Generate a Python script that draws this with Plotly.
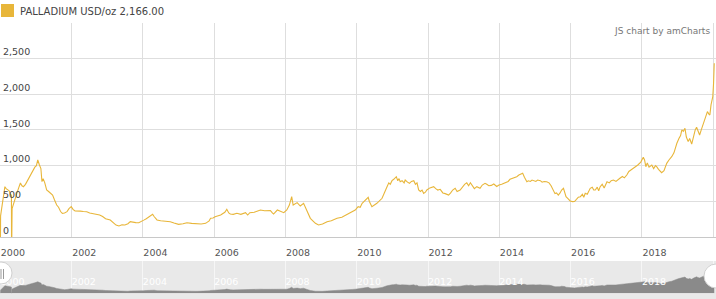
import plotly.graph_objects as go

# ---- data ----
dates = [
    "2000-01-03", "2000-01-04", "2000-01-20", "2000-02-05", "2000-02-17", "2000-03-01", "2000-03-15",
    "2000-04-01", "2000-04-15", "2000-04-24", "2000-04-25", "2000-04-28", "2000-05-01", "2000-05-15",
    "2000-06-01", "2000-06-20", "2000-07-10", "2000-07-25", "2000-08-10", "2000-08-25", "2000-09-15",
    "2000-10-01", "2000-10-20", "2000-11-10", "2000-12-01", "2000-12-20",
    "2001-01-05", "2001-01-19", "2001-02-05", "2001-02-20", "2001-03-03", "2001-03-15", "2001-04-01",
    "2001-04-20", "2001-05-10", "2001-06-01", "2001-06-20", "2001-07-10", "2001-08-01", "2001-08-20",
    "2001-09-10", "2001-09-28", "2001-10-20", "2001-11-15", "2001-12-05", "2001-12-28",
    "2002-01-15", "2002-02-05", "2002-03-01", "2002-04-01", "2002-05-01", "2002-06-05", "2002-07-05",
    "2002-08-05", "2002-09-01", "2002-10-15", "2002-11-15", "2002-12-15",
    "2003-02-01", "2003-03-01", "2003-04-01", "2003-05-01", "2003-06-01", "2003-07-01", "2003-08-01",
    "2003-08-25", "2003-09-20", "2003-10-20", "2003-11-20", "2003-12-10",
    "2004-01-10", "2004-02-05", "2004-03-01", "2004-04-10", "2004-04-25", "2004-05-25", "2004-07-01",
    "2004-08-15", "2004-10-08", "2004-11-15",
    "2005-01-01", "2005-02-15", "2005-03-28", "2005-05-15", "2005-07-10", "2005-08-20", "2005-10-05",
    "2005-11-10", "2005-11-25", "2005-12-20",
    "2006-01-10", "2006-02-10", "2006-03-08", "2006-04-20", "2006-05-10", "2006-05-30", "2006-06-15",
    "2006-07-15", "2006-08-22", "2006-10-01", "2006-11-18", "2006-12-10",
    "2007-01-01", "2007-02-15", "2007-04-20", "2007-06-01", "2007-07-31", "2007-08-20", "2007-09-01",
    "2007-10-10", "2007-12-15",
    "2008-01-15", "2008-02-10", "2008-03-05", "2008-03-20", "2008-04-30", "2008-06-01", "2008-07-05",
    "2008-08-10", "2008-09-12", "2008-11-03", "2008-12-05",
    "2009-01-15", "2009-03-03", "2009-04-15", "2009-06-13", "2009-08-01", "2009-09-24", "2009-11-15",
    "2009-12-16",
    "2010-01-15", "2010-02-05", "2010-02-25", "2010-04-28", "2010-05-10", "2010-06-05", "2010-07-26",
    "2010-09-17", "2010-11-07", "2010-11-25", "2010-12-10", "2010-12-28",
    "2011-01-15", "2011-02-10", "2011-02-25", "2011-03-10", "2011-03-22", "2011-04-10", "2011-05-01",
    "2011-05-12", "2011-06-05", "2011-06-25", "2011-07-15", "2011-08-08", "2011-08-25", "2011-09-10",
    "2011-09-27", "2011-10-15", "2011-11-01", "2011-11-17", "2011-12-05", "2011-12-20",
    "2012-01-20", "2012-02-10", "2012-02-28", "2012-03-20", "2012-04-10", "2012-05-05", "2012-06-01",
    "2012-06-25", "2012-07-15", "2012-07-30", "2012-08-20", "2012-09-10", "2012-10-05", "2012-10-25",
    "2012-11-25", "2012-12-15",
    "2013-01-10", "2013-02-01", "2013-02-20", "2013-03-10", "2013-04-05", "2013-04-20", "2013-05-15",
    "2013-06-17", "2013-07-10", "2013-08-07", "2013-08-25", "2013-09-15", "2013-10-10", "2013-11-05",
    "2013-12-05", "2013-12-28",
    "2014-01-25", "2014-02-13", "2014-03-10", "2014-04-01", "2014-04-20", "2014-05-15", "2014-06-05",
    "2014-06-28", "2014-07-20", "2014-08-05", "2014-08-28", "2014-09-15", "2014-10-10", "2014-10-25",
    "2014-11-15", "2014-12-02", "2014-12-17",
    "2015-01-10", "2015-01-28", "2015-02-25", "2015-03-15", "2015-04-05", "2015-05-01", "2015-05-25",
    "2015-06-15", "2015-07-10", "2015-07-25", "2015-08-10", "2015-08-28", "2015-09-15", "2015-10-01",
    "2015-10-20", "2015-11-01", "2015-11-15", "2015-12-05", "2015-12-28",
    "2016-01-20", "2016-02-10", "2016-03-01", "2016-03-20", "2016-04-10", "2016-05-01", "2016-05-15",
    "2016-05-30", "2016-06-20", "2016-07-20", "2016-08-10", "2016-08-25", "2016-09-10", "2016-09-30",
    "2016-10-15", "2016-10-30", "2016-11-20", "2016-12-10",
    "2017-01-08", "2017-02-01", "2017-02-20", "2017-03-15", "2017-04-10", "2017-05-01", "2017-05-20",
    "2017-06-15", "2017-07-05", "2017-07-30", "2017-08-20", "2017-09-10", "2017-10-05", "2017-10-25",
    "2017-11-20", "2017-12-20",
    "2018-01-15", "2018-01-28", "2018-02-10", "2018-02-25", "2018-03-15", "2018-04-12", "2018-05-01",
    "2018-05-20", "2018-06-01", "2018-06-20", "2018-07-10", "2018-07-22", "2018-08-15", "2018-09-12",
    "2018-10-05", "2018-11-02", "2018-11-25", "2018-12-10", "2018-12-25",
    "2019-01-15", "2019-02-01", "2019-02-14", "2019-03-01", "2019-03-18", "2019-04-01", "2019-04-20",
    "2019-05-05", "2019-05-26", "2019-06-15", "2019-07-01", "2019-07-15", "2019-07-28", "2019-08-15",
    "2019-09-01", "2019-09-25", "2019-10-10", "2019-10-25", "2019-11-03", "2019-11-18", "2019-11-28",
    "2019-12-10", "2019-12-28", "2020-01-05", "2020-01-12",
]
prices = [
    0, 300, 450, 650, 707, 680, 661,
    650, 590, 590, 0, 0, 400, 470,
    549, 620, 700, 758, 720, 707, 740,
    780, 847, 900, 940, 980,
    1000, 1080, 1010, 960, 777, 820, 760,
    661, 640, 610, 590, 520, 451, 420,
    360, 335, 340, 358, 400, 428,
    390, 367, 370, 365, 360, 358, 340,
    330, 320, 311, 290, 260,
    242, 210, 170, 158, 175, 172, 190,
    218, 210, 205, 204, 215,
    240, 260, 288, 321, 290, 242, 230,
    225, 218, 200,
    181, 190, 204, 195, 186, 185, 195,
    230, 265, 270,
    288, 300, 311, 350, 391, 340, 325,
    320, 335, 320, 344, 311,
    344, 350, 381, 370, 372, 340, 325,
    381, 344,
    381, 450, 567, 451, 484, 437, 475,
    358, 265, 195, 172,
    185, 218, 230, 265, 280, 321, 360,
    381,
    428, 420, 475, 559, 500, 428, 475,
    545, 707, 760, 740, 791,
    810, 847, 790, 820, 777, 790, 760,
    800, 770, 754, 780, 791, 740, 760,
    661, 640, 660, 614, 630, 661,
    690, 700, 707, 680, 660, 670, 620,
    610, 600, 590, 620, 660, 684, 640,
    661, 700,
    740, 760, 720, 763, 720, 680, 707,
    684, 730, 754, 740, 720, 725, 745,
    710, 730,
    740, 754, 770, 780, 810, 820, 830,
    847, 870, 880, 894, 840, 777, 790,
    780, 800, 791,
    780, 800, 791, 770, 780, 777, 760,
    720, 637, 610, 620, 590, 620, 660,
    684, 630, 567, 540, 507,
    498, 500, 530, 560, 567, 600, 560,
    614, 600, 684, 700, 660, 661, 700,
    650, 707, 740, 690,
    777, 760, 790, 800, 780, 810, 824,
    850, 830, 870, 920, 940, 964, 980,
    1010, 1050,
    1117, 1080, 986, 1040, 980, 1010, 960,
    1000, 986, 950, 920, 903, 930, 1033,
    1080, 1126, 1180, 1250, 1313,
    1380, 1420, 1499, 1480, 1522, 1400, 1336,
    1380, 1303, 1420, 1500, 1536, 1480, 1429,
    1500, 1592, 1680, 1720, 1755, 1720, 1708,
    1850, 1964, 2150, 2430,
]

series_name = "PALLADIUM USD/oz 2,166.00"
y_tickvals = [0, 500, 1000, 1500, 2000, 2500, 3000]
y_ticktext = ["0", "500", "1,000", "1,500", "2,000", "2,500", ""]
x_tickvals = ["2000-01-01", "2002-01-01", "2004-01-01", "2006-01-01", "2008-01-01", "2010-01-01",
              "2012-01-01", "2014-01-01", "2016-01-01", "2018-01-01", "2020-01-01"]
x_ticktext = ["2000", "2002", "2004", "2006", "2008", "2010", "2012", "2014", "2016", "2018", ""]
x_range = ["1999-12-29", "2020-01-30"]

W, H = 716, 299
GOLD = "#e8b63a"
FONT = "DejaVu Sans"


def px_x(p):
    return p / W


def px_y(p):
    return (H - p) / H


MAIN_DOMAIN = [px_y(237.3), px_y(22.5)]

fig = go.Figure()
fig.add_trace(go.Scatter(x=dates, y=prices, mode="lines", line=dict(color=GOLD, width=1.1),
                         xaxis="x", yaxis="y", showlegend=False, hoverinfo="skip"))
fig.add_trace(go.Scatter(x=dates, y=prices, mode="lines", line=dict(color="#8a8a8a", width=0.5),
                         fill="tozeroy", fillcolor="#8a8a8a",
                         xaxis="x2", yaxis="y2", showlegend=False, hoverinfo="skip"))
# carrier trace for the value-axis labels (drawn on an overlaying axis pair)
fig.add_trace(go.Scatter(x=dates, y=prices, mode="lines", line=dict(width=0), opacity=0,
                         xaxis="x3", yaxis="y3", showlegend=False, hoverinfo="skip"))

shapes = [
    # scrollbar background
    dict(type="rect", xref="paper", yref="paper", x0=0, x1=1, y0=0, y1=px_y(261),
         fillcolor="#e9e9e9", line=dict(width=0), layer="below"),
    # legend swatch
    dict(type="rect", xref="paper", yref="paper", x0=px_x(1), x1=px_x(14), y0=px_y(17), y1=px_y(4),
         fillcolor=GOLD, line=dict(width=0)),
    # grips
    dict(type="circle", xref="paper", yref="paper", x0=px_x(-10), x1=px_x(12), y0=px_y(284), y1=px_y(262),
         fillcolor="white", line=dict(color="#d0d0d0", width=1)),
    dict(type="circle", xref="paper", yref="paper", x0=px_x(704), x1=px_x(728), y0=px_y(288), y1=px_y(264),
         fillcolor="white", line=dict(color="#d0d0d0", width=1)),
    dict(type="line", xref="paper", yref="paper", x0=px_x(1), x1=px_x(1), y0=px_y(279), y1=px_y(269),
         line=dict(color="#999", width=1)),
    dict(type="line", xref="paper", yref="paper", x0=px_x(3.5), x1=px_x(3.5), y0=px_y(279), y1=px_y(269),
         line=dict(color="#999", width=1)),
]

annotations = [
    dict(text=series_name, xref="paper", yref="paper", x=px_x(18), y=px_y(11.5), xanchor="left",
         yanchor="middle", showarrow=False, font=dict(family=FONT, size=10, color="#444")),
    dict(text="JS chart by amCharts", xref="paper", yref="paper", x=px_x(712), y=px_y(30.5),
         xanchor="right", yanchor="middle", showarrow=False, font=dict(family=FONT, size=9, color="#777")),
]

fig.update_layout(
    width=W, height=H,
    margin=dict(l=0, r=0, t=0, b=0),
    paper_bgcolor="white", plot_bgcolor="rgba(0,0,0,0)",
    font=dict(family=FONT, size=9.5, color="#555"),
    xaxis=dict(domain=[0, 1], anchor="y", range=x_range, type="date",
               tickvals=x_tickvals, ticktext=x_ticktext, ticklabelposition="outside right",
               ticklabeloverflow="allow",
               ticks="", showgrid=True, gridcolor="#dedede", gridwidth=1,
               showline=True, linecolor="#c8c8c8", linewidth=1, zeroline=False,
               ticklabelstandoff=6),
    yaxis=dict(domain=MAIN_DOMAIN, anchor="x", range=[0, 3000],
               tickvals=y_tickvals, showticklabels=False,
               ticks="", showgrid=True, gridcolor="#dedede", gridwidth=1, zeroline=False,
               showline=False),
    xaxis3=dict(overlaying="x", anchor="y3", range=x_range, type="date", visible=False),
    yaxis3=dict(overlaying="y", anchor="x3", domain=MAIN_DOMAIN, range=[0, 3000],
                tickvals=y_tickvals, ticktext=y_ticktext, ticklabelposition="inside top",
                ticks="", showgrid=False, zeroline=False, showline=False),
    xaxis2=dict(domain=[0, 1], anchor="y2", range=x_range, type="date",
                tickvals=x_tickvals, ticktext=x_ticktext, ticklabelposition="inside right",
                ticklabeloverflow="allow",
                ticks="", showgrid=True, gridcolor="#f6f6f6", gridwidth=1, showline=False,
                zeroline=False, tickfont=dict(color="white", size=9.5, family=FONT)),
    yaxis2=dict(domain=[px_y(293.3), px_y(261)], anchor="x2", range=[0, 3020],
                showticklabels=False, showgrid=False, zeroline=False, ticks=""),
    shapes=shapes,
    annotations=annotations,
)

fig.write_html("out.html")
